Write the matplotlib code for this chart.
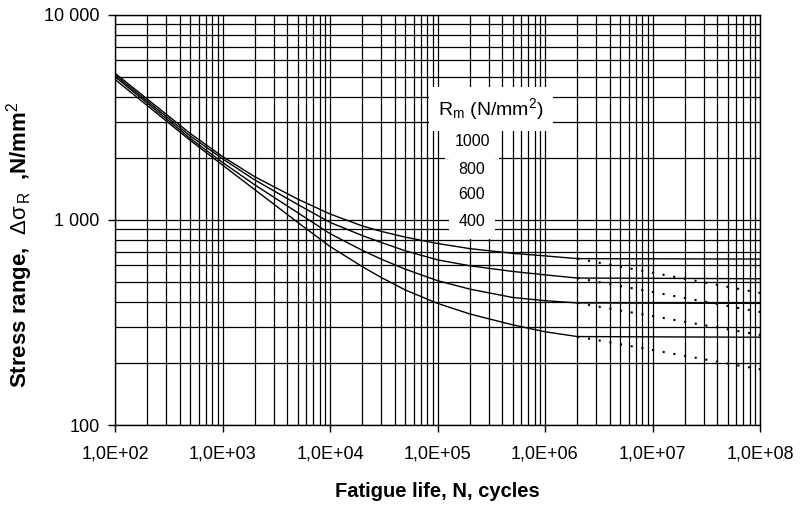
import numpy as np
import matplotlib
matplotlib.use("Agg")
import matplotlib.pyplot as plt
from matplotlib.ticker import LogLocator, NullFormatter

# S-N curves for base material, by tensile strength R_m
cycles = [1e2, 5e2, 1e3, 2e3, 5e3, 1e4, 2e4, 3e4, 5e4, 1e5, 2e5, 5e5, 1e6, 2e6]
rm_labels = ["1000", "800", "600", "400"]
stress_1000 = [5200, 2645, 2040, 1625, 1265, 1070, 935, 880, 825, 768, 725, 688, 668, 648]
stress_800 = [5100, 2572, 1990, 1567, 1191, 974, 839, 777, 708, 639, 598, 561, 540, 521]
stress_600 = [5000, 2502, 1910, 1483, 1086, 858, 711, 644, 576, 506, 460, 419, 404, 394]
stress_400 = [4850, 2447, 1854, 1405, 974, 743, 592, 524, 456, 392, 348, 308, 285, 270]

# beyond the knee: constant-amplitude branch (solid) and extended branch (dotted)
tail_cycles = [2e6, 1e8]
solid_tail_end = [645, 517, 392, 268]
dotted_tail_end = [441, 356, 275, 187]

x_ticks = [1e2, 1e3, 1e4, 1e5, 1e6, 1e7, 1e8]
x_tick_labels = ["1,0E+02", "1,0E+03", "1,0E+04", "1,0E+05", "1,0E+06", "1,0E+07", "1,0E+08"]
y_ticks = [100, 1000, 10000]
y_tick_labels = ["100", "1 000", "10 000"]

plt.rcParams["font.family"] = ["Liberation Sans", "DejaVu Sans"]
plt.rcParams["mathtext.fontset"] = "custom"
plt.rcParams["mathtext.rm"] = "Liberation Sans"
plt.rcParams["mathtext.it"] = "Liberation Sans:italic"
plt.rcParams["mathtext.bf"] = "Liberation Sans:bold"

fig = plt.figure(figsize=(8.08, 5.05), dpi=100)
ax = fig.add_axes([115 / 808, 80 / 505, 645 / 808, 410 / 505])
ax.set_xscale("log")
ax.set_yscale("log")
ax.set_xlim(1e2, 1e8)
ax.set_ylim(100, 10000)

ax.xaxis.set_minor_locator(LogLocator(base=10, subs=np.arange(2, 10), numticks=100))
ax.yaxis.set_minor_locator(LogLocator(base=10, subs=np.arange(2, 10), numticks=100))
ax.xaxis.set_minor_formatter(NullFormatter())
ax.yaxis.set_minor_formatter(NullFormatter())
ax.set_xticks(x_ticks, x_tick_labels)
ax.set_yticks(y_ticks, y_tick_labels)
ax.tick_params(which="minor", length=0)
ax.tick_params(which="major", length=5, width=1, direction="out", labelsize=13, colors="black")
ax.tick_params(axis="x", pad=10)
ax.tick_params(axis="y", pad=6)
ax.grid(True, which="both", color="black", lw=0.9)
ax.set_axisbelow(True)
for sp in ax.spines.values():
    sp.set_color("black")
    sp.set_linewidth(1.0)

series = [stress_1000, stress_800, stress_600, stress_400]
for vals, s_end, d_end in zip(series, solid_tail_end, dotted_tail_end):
    ax.plot(cycles, vals, color="black", lw=1.0, zorder=3)
    ax.plot(tail_cycles, [vals[-1], s_end], color="black", lw=1.0, zorder=3)
    ax.plot(tail_cycles, [vals[-1], d_end], color="black", lw=1.5,
            ls=(0, (1, 4.2)), zorder=3)

# legend block with white backing over the grid
ax.text(0.583, 0.771, r"R$_{\mathrm{m}}$ (N/mm$^{2}$)", transform=ax.transAxes,
        ha="center", va="center", fontsize=14, zorder=5,
        bbox=dict(boxstyle="square,pad=0.45", fc="white", ec="none"))
label_y = [0.691, 0.6237, 0.561, 0.4959]
for lab, yy in zip(rm_labels, label_y):
    ax.text(0.5535, yy, lab, transform=ax.transAxes, ha="center", va="center",
            fontsize=11.5, zorder=4,
            bbox=dict(boxstyle="square,pad=0.6", fc="white", ec="none"))

ax.set_xlabel("Fatigue life, N, cycles", fontsize=14.5, fontweight="bold", labelpad=14)
ax.set_ylabel(r"Stress range,  $\Delta\mathrm{\sigma}_{\,\mathrm{R}}$  ,N/mm$^{2}$",
              fontsize=16, fontweight="bold")
ax.yaxis.set_label_coords(-0.124, 0.44)

fig.savefig("out.png", dpi=100, facecolor="white")
